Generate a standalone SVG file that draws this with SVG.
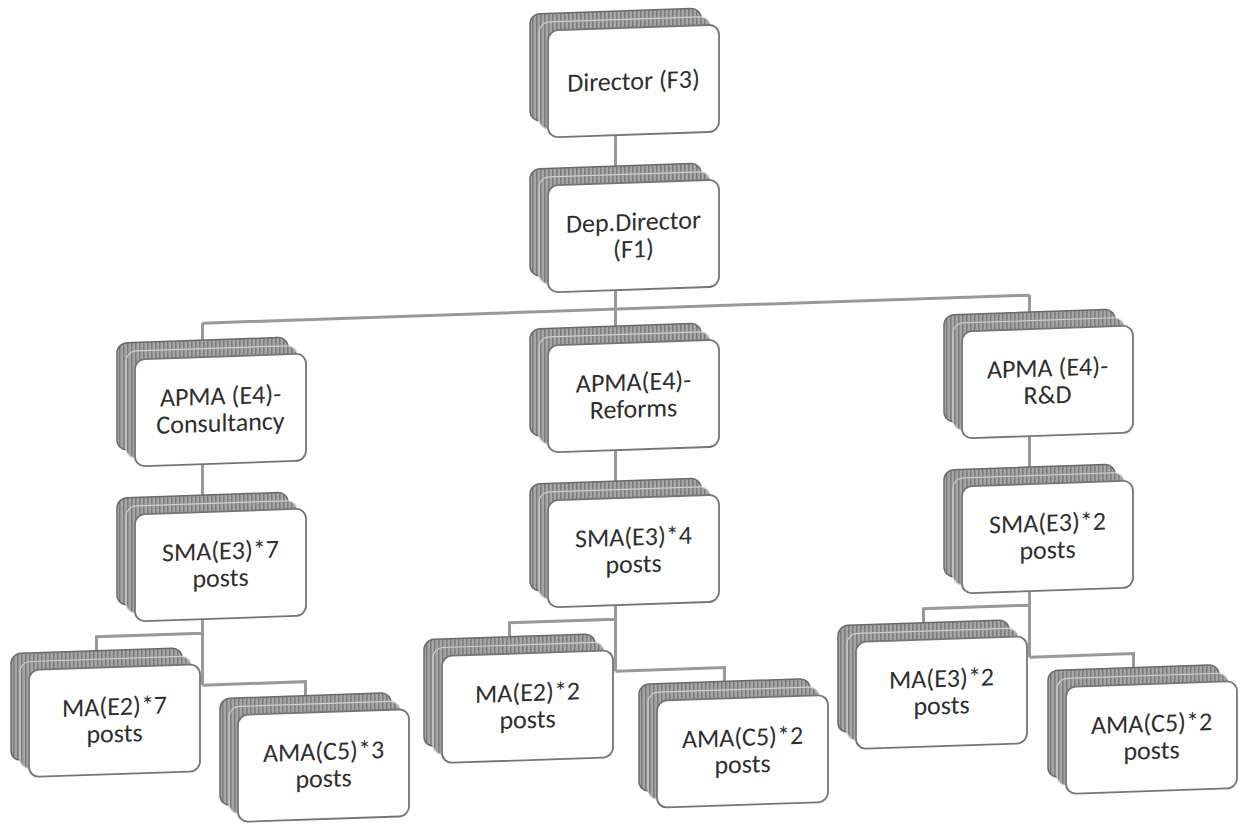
<svg xmlns="http://www.w3.org/2000/svg" width="1245" height="826" viewBox="0 0 1245 826">
<defs>
<pattern id="stripe" width="4" height="10" patternUnits="userSpaceOnUse">
<rect width="4" height="10" fill="#a6a6a6"/>
<rect width="1.5" height="10" fill="#7a7a7a"/>
</pattern>
<symbol id="card" overflow="visible">
<rect class="back" x="-18" y="-17" width="171" height="107" rx="10"/>
<rect class="mid" x="-9" y="-8.5" width="171" height="107" rx="10"/>
<rect class="front" x="0" y="0" width="171" height="107" rx="10"/>
</symbol>
</defs>
<style>
.back{fill:url(#stripe);stroke:#6a6a6a;stroke-width:1.5}
.mid{fill:url(#stripe);stroke:#cfcfcf;stroke-width:1.2}
.front{fill:#fefefe;stroke:#757575;stroke-width:1.8}
.lbl{font-family:Calibri,Carlito,"Open Sans",sans-serif;font-size:26px;fill:#2e2e2e;text-anchor:middle}
.conn{fill:none;stroke:#999999;stroke-width:3}
</style>
<rect width="1245" height="826" fill="#ffffff"/>
<g transform="translate(0,21) skewY(-1.94)">
<g id="connectors">
<path class="conn" d="M615.5,135 V166"/>
<path class="conn" d="M615.5,289 V326 M202.5,309 H1029.5 M202.5,309 V326 M1029.5,309 V326"/>
<path class="conn" d="M202.5,450 V481 M615.5,450 V481 M1029.5,450 V481"/>
<path class="conn" d="M202.5,605 V671 M202.5,619 H96.5 V633 M202.5,671 H305.5 V685"/>
<path class="conn" d="M615.5,605 V671 M615.5,619 H509.5 V633 M615.5,671 H724.5 V685"/>
<path class="conn" d="M1029.5,605 V671 M1029.5,619 H923.5 V633 M1029.5,671 H1133.5 V685"/>
</g>
<g id="director" transform="translate(548,28)"><use href="#card"/><text class="lbl" x="85.5" y="62">Director (F3)</text></g>
<g id="depdirector" transform="translate(548,183)"><use href="#card"/><text class="lbl" x="85.5" y="48">Dep.Director</text><text class="lbl" x="85.5" y="75">(F1)</text></g>
<g id="apma-consultancy" transform="translate(135,343)"><use href="#card"/><text class="lbl" x="85.5" y="48">APMA (E4)-</text><text class="lbl" x="85.5" y="75">Consultancy</text></g>
<g id="apma-reforms" transform="translate(548,343)"><use href="#card"/><text class="lbl" x="85.5" y="48">APMA(E4)-</text><text class="lbl" x="85.5" y="75">Reforms</text></g>
<g id="apma-rd" transform="translate(962,343)"><use href="#card"/><text class="lbl" x="85.5" y="48">APMA (E4)-</text><text class="lbl" x="85.5" y="75">R&amp;D</text></g>
<g id="sma7" transform="translate(135,498)"><use href="#card"/><text class="lbl" x="85.5" y="48">SMA(E3)*7</text><text class="lbl" x="85.5" y="75">posts</text></g>
<g id="sma4" transform="translate(548,498)"><use href="#card"/><text class="lbl" x="85.5" y="48">SMA(E3)*4</text><text class="lbl" x="85.5" y="75">posts</text></g>
<g id="sma2" transform="translate(962,498)"><use href="#card"/><text class="lbl" x="85.5" y="48">SMA(E3)*2</text><text class="lbl" x="85.5" y="75">posts</text></g>
<g id="ma7" transform="translate(29,650)"><use href="#card"/><text class="lbl" x="85.5" y="48">MA(E2)*7</text><text class="lbl" x="85.5" y="75">posts</text></g>
<g id="ama3" transform="translate(238,702)"><use href="#card"/><text class="lbl" x="85.5" y="48">AMA(C5)*3</text><text class="lbl" x="85.5" y="75">posts</text></g>
<g id="ma2" transform="translate(442,650)"><use href="#card"/><text class="lbl" x="85.5" y="48">MA(E2)*2</text><text class="lbl" x="85.5" y="75">posts</text></g>
<g id="ama2-reforms" transform="translate(657,702)"><use href="#card"/><text class="lbl" x="85.5" y="48">AMA(C5)*2</text><text class="lbl" x="85.5" y="75">posts</text></g>
<g id="ma3" transform="translate(856,650)"><use href="#card"/><text class="lbl" x="85.5" y="48">MA(E3)*2</text><text class="lbl" x="85.5" y="75">posts</text></g>
<g id="ama2-rd" transform="translate(1066,702)"><use href="#card"/><text class="lbl" x="85.5" y="48">AMA(C5)*2</text><text class="lbl" x="85.5" y="75">posts</text></g>
</g>
</svg>
